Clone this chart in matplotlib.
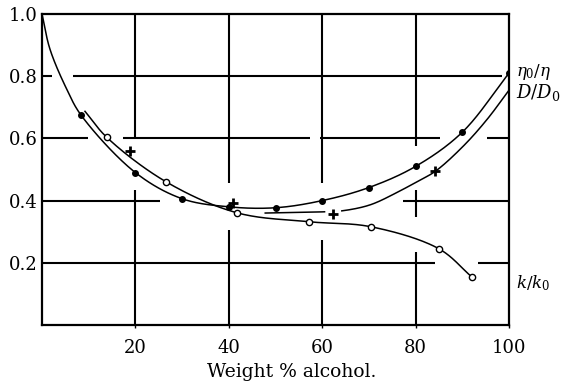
import numpy as np
import matplotlib
matplotlib.use('Agg')
import matplotlib.pyplot as plt

plt.rcParams['font.family'] = 'DejaVu Serif'
plt.rcParams['mathtext.fontset'] = 'dejavuserif'

# eta0/eta (filled dots)
visc_x = [8.4, 20, 30, 40, 50, 60, 70, 80, 90, 100]
visc_y = [0.674, 0.49, 0.406, 0.38, 0.377, 0.40, 0.442, 0.51, 0.62, 0.81]
visc_path_x = [0, 1.7, 5.3, 8.4, 20, 30, 40, 50, 60, 70, 80, 90, 100]
visc_path_y = [1.0, 0.887, 0.758, 0.674, 0.49, 0.406, 0.38, 0.377, 0.40, 0.442, 0.51, 0.62, 0.81]

# D/D0 (plus marks)
diff_x = [18.8, 41, 62.4, 84.2]
diff_y = [0.558, 0.393, 0.358, 0.494]
diff_path_x = [47.8, 55, 60.5, 64.2, 70.2, 76, 80.3, 84.2, 90.2, 95.3, 100]
diff_path_y = [0.36, 0.362, 0.364, 0.367, 0.386, 0.426, 0.461, 0.494, 0.575, 0.661, 0.755]

# k/k0 (open circles)
cond_x = [13.9, 26.5, 41.7, 57.2, 70.4, 85, 92]
cond_y = [0.603, 0.461, 0.361, 0.332, 0.316, 0.245, 0.155]
cond_path_x = [9.2, 13.9, 26.5, 41.7, 57.2, 70.4, 85, 92]
cond_path_y = [0.687, 0.603, 0.461, 0.361, 0.332, 0.316, 0.245, 0.155]

xticks = [20, 40, 60, 80, 100]
yticks = [0.2, 0.4, 0.6, 0.8, 1.0]


def smooth(xs, ys, n=30):
    # centripetal catmull-rom through the read points (scaled to pixel-ish units)
    pts = np.column_stack([np.asarray(xs) * 4.67, np.asarray(ys) * 310.0])
    p = np.vstack([2*pts[0]-pts[1], pts, 2*pts[-1]-pts[-2]])
    out = []
    for i in range(1, len(p)-2):
        P0, P1, P2, P3 = p[i-1], p[i], p[i+1], p[i+2]
        t0 = 0.0
        t1 = t0 + np.linalg.norm(P1-P0)**0.5
        t2 = t1 + np.linalg.norm(P2-P1)**0.5
        t3 = t2 + np.linalg.norm(P3-P2)**0.5
        t = np.linspace(t1, t2, n, endpoint=False)[:, None]
        A1 = (t1-t)/(t1-t0)*P0 + (t-t0)/(t1-t0)*P1
        A2 = (t2-t)/(t2-t1)*P1 + (t-t1)/(t2-t1)*P2
        A3 = (t3-t)/(t3-t2)*P2 + (t-t2)/(t3-t2)*P3
        B1 = (t2-t)/(t2-t0)*A1 + (t-t0)/(t2-t0)*A2
        B2 = (t3-t)/(t3-t1)*A2 + (t-t1)/(t3-t1)*A3
        out.append((t2-t)/(t2-t1)*B1 + (t-t1)/(t2-t1)*B2)
    out.append(pts[-1:])
    s = np.vstack(out)
    return s[:, 0] / 4.67, s[:, 1] / 310.0


fig = plt.figure(figsize=(5.7, 3.82), dpi=100)
ax = fig.add_axes([0.0737, 0.1492, 0.8193, 0.8142])
ax.set_xlim(0, 100)
ax.set_ylim(0, 1.0)

# broken grid lines like the printed figure
hseg = [(0.8, 0, 2.2), (0.8, 6.6, 98.5),
        (0.6, 0, 9.9), (0.6, 17.3, 57.4), (0.6, 59.5, 85.2), (0.6, 95.3, 100),
        (0.4, 0, 25.3), (0.4, 77.3, 100),
        (0.2, 0, 84.2), (0.2, 93.4, 100)]
vseg = [(20, 0, 0.435), (20, 0.6, 1.0),
        (40, 0, 0.306), (40, 0.458, 1.0),
        (60, 0, 0.274), (60, 0.458, 1.0),
        (80, 0, 0.235), (80, 0.348, 0.435), (80, 0.574, 1.0)]
for y, a, b in hseg:
    ax.plot([a, b], [y, y], color='black', lw=1.5, solid_capstyle='butt')
for x, a, b in vseg:
    ax.plot([x, x], [a, b], color='black', lw=1.5, solid_capstyle='butt')

sx, sy = smooth(visc_path_x, visc_path_y)
ax.plot(sx, sy, color='black', lw=1.1)
ax.plot(visc_x, visc_y, 'o', color='black', ms=4)

sx, sy = smooth(diff_path_x, diff_path_y)
sy = np.where((sx > 60.6) & (sx < 64.1), np.nan, sy)
ax.plot(sx, sy, color='black', lw=1.1)
ax.plot(diff_x, diff_y, '+', color='black', ms=7, mew=2)

sx, sy = smooth(cond_path_x, cond_path_y)
ax.plot(sx, sy, color='black', lw=1.1)
ax.plot(cond_x, cond_y, 'o', color='black', mfc='white', ms=4.5, mew=1)

for s in ax.spines.values():
    s.set_linewidth(1.6)

ax.set_xticks(xticks)
ax.set_yticks(yticks)
ax.set_xticklabels([str(v) for v in xticks])
ax.set_yticklabels(['%.1f' % v for v in yticks])
ax.tick_params(axis='x', length=2, width=1, pad=8, labelsize=13)
ax.tick_params(axis='y', length=0, pad=3, labelsize=13)

ax.text(101.5, 0.815, r'$\eta_0/\eta$', fontsize=12, va='center', ha='left')
ax.text(101.5, 0.748, r'$D/D_0$', fontsize=13, va='center', ha='left')
ax.text(101.5, 0.135, r'$k/k_0$', fontsize=12, va='center', ha='left')

fig.text(292/570, 1-372/382, 'Weight % alcohol.', fontsize=13.5, ha='center', va='center')

fig.savefig('out.png', dpi=100)
